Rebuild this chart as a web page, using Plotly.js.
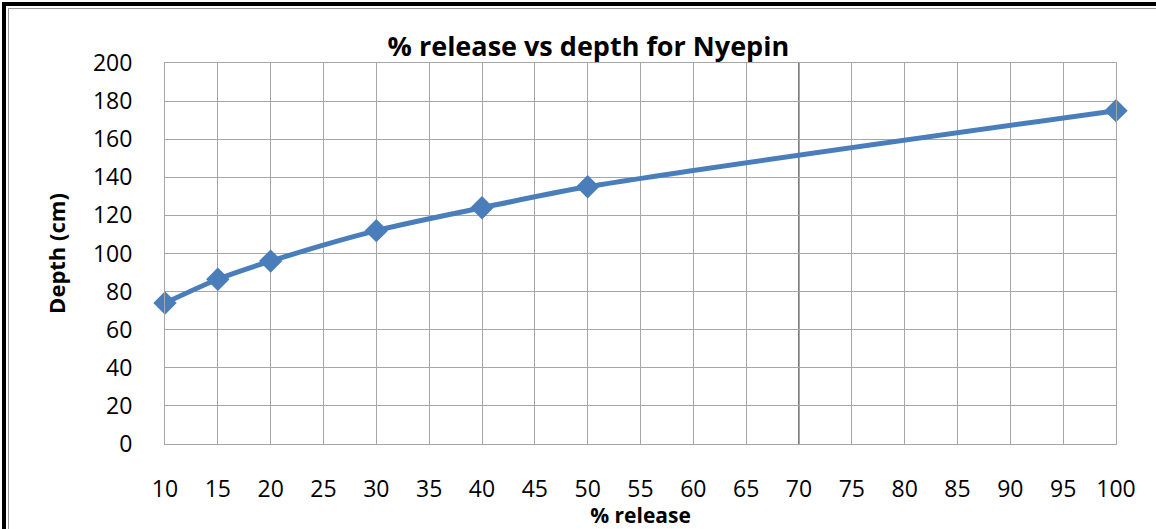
<!DOCTYPE html>
<html>
<head>
<meta charset="utf-8">
<script src="https://cdn.plot.ly/plotly-3.0.1.min.js"></script>
<style>
  html, body { margin: 0; padding: 0; background: #ffffff; }
  #wrap { position: relative; width: 1156px; height: 529px; overflow: hidden; }
  #chart { position: absolute; left: 0; top: 0; width: 1156px; height: 529px; }
  #frameOuter { position: absolute; left: 2px; top: 2px; right: -10px; bottom: -10px;
                border-left: 4px solid #000; border-top: 4px solid #000; pointer-events: none; }
  #frameInner { position: absolute; left: 8px; top: 8px; right: -10px; bottom: -10px;
                border-left: 1px solid #9a9a9a; border-top: 1px solid #9a9a9a; pointer-events: none; }
</style>
</head>
<body>
<div id="wrap">
  <div id="chart"></div>
  <div id="frameOuter"></div>
  <div id="frameInner"></div>
</div>
<script>
// ---- data ----
const releasePct = [10, 15, 20, 30, 40, 50, 100];
const depthCm    = [74, 86.5, 96, 112, 124, 135, 175];
const xTickVals  = [10, 15, 20, 25, 30, 35, 40, 45, 50, 55, 60, 65, 70, 75, 80, 85, 90, 95, 100];
const yTickVals  = [0, 20, 40, 60, 80, 100, 120, 140, 160, 180, 200];
const chartTitle = "% release vs depth for Nyepin";
const xTitle     = "% release";
const yTitle     = "Depth (cm)";
const darkGridX  = 70;

const font = "'Open Sans', 'Liberation Sans', sans-serif";
const gridColor = "#a6a6a6";

const trace = {
  x: releasePct,
  y: depthCm,
  type: "scatter",
  mode: "lines+markers",
  line: { color: "#4a7ebb", width: 5, shape: "spline", smoothing: 0.8 },
  marker: { symbol: "diamond", size: 18, color: "#4a7ebb" },
  cliponaxis: false,
  hoverinfo: "x+y",
  showlegend: false
};

const layout = {
  width: 1156,
  height: 529,
  paper_bgcolor: "#ffffff",
  plot_bgcolor: "#ffffff",
  margin: { l: 165, r: 40, t: 63, b: 85, pad: 0 },
  title: {
    text: "<b>" + chartTitle + "</b>",
    font: { family: font, size: 27, color: "#000" },
    x: 0.509, xanchor: "center",
    y: 1 - 47 / 529, yanchor: "middle"
  },
  xaxis: {
    range: [10, 100],
    tickmode: "array",
    tickvals: xTickVals,
    ticktext: xTickVals.map(String),
    showgrid: true,
    gridcolor: gridColor,
    gridwidth: 1,
    zeroline: false,
    showline: true,
    linecolor: gridColor,
    linewidth: 1,
    mirror: true,
    ticks: "",
    ticklabelstandoff: 24,
    tickfont: { family: font, size: 23, color: "#000" },
    title: {
      text: "<b>" + xTitle + "</b>",
      font: { family: font, size: 21, color: "#000" },
      standoff: 0
    },
    fixedrange: true
  },
  yaxis: {
    range: [0, 200],
    tickmode: "array",
    tickvals: yTickVals,
    ticktext: yTickVals.map(String),
    showgrid: true,
    gridcolor: gridColor,
    gridwidth: 1,
    zeroline: false,
    showline: true,
    linecolor: gridColor,
    linewidth: 1,
    mirror: true,
    ticks: "",
    ticklabelstandoff: 27,
    tickfont: { family: font, size: 23, color: "#000" },
    title: {
      text: "<b>" + yTitle + "</b>",
      font: { family: font, size: 22, color: "#000" },
      standoff: 21
    },
    fixedrange: true
  },
  shapes: [{
    type: "line", xref: "x", yref: "paper",
    x0: darkGridX, x1: darkGridX, y0: 0, y1: 1,
    line: { color: "#7f7f7f", width: 2 },
    layer: "below"
  }]
};

Plotly.newPlot("chart", [trace], layout, { displayModeBar: false, responsive: false });
</script>
</body>
</html>
